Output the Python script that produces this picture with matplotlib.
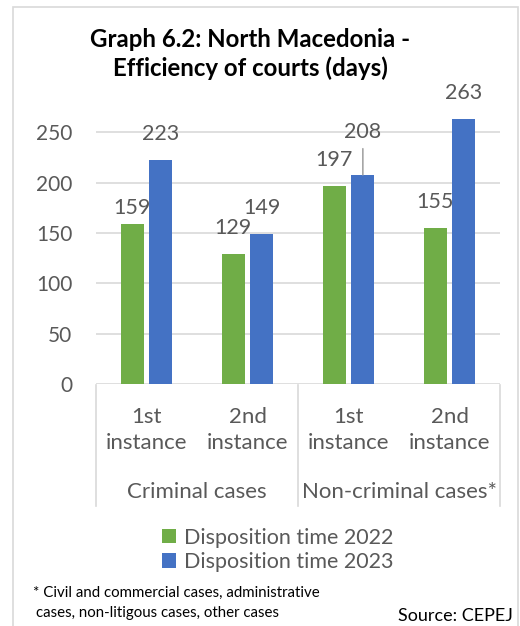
import matplotlib
matplotlib.use("Agg")
import matplotlib.pyplot as plt
import matplotlib.transforms as mtrans
from matplotlib.lines import Line2D
from matplotlib.patches import Rectangle

plt.rcParams['font.family'] = ['Lato', 'DejaVu Sans']

# ---- data ----
instances = ["1st\ninstance", "2nd\ninstance", "1st\ninstance", "2nd\ninstance"]
groups = ["Criminal cases", "Non-criminal cases*"]
dt_2022 = [159, 129, 197, 155]
dt_2023 = [223, 149, 208, 263]
series_names = ["Disposition time 2022", "Disposition time 2023"]
yticks = [0, 50, 100, 150, 200, 250]

GREEN = "#70AD47"
BLUE = "#4472C4"
GRID = "#D9D9D9"
TXT = "#595959"

W, H = 520, 626
fig = plt.figure(figsize=(W / 100, H / 100), dpi=100)

def fx(px):
    return px / W

def fy(py):
    return 1 - py / H

# chart frame
fig.patches.append(Rectangle((fx(13), fy(640)), fx(505), (640 - 7) / H,
                             transform=fig.transFigure, fill=False,
                             edgecolor="#D9D9D9", lw=1.2))

ax_left, ax_right = 96, 500
y0_px = 384
px_per_unit = 1.006
ymax = 300
ax_top = y0_px - ymax * px_per_unit
ax = fig.add_axes([fx(ax_left), fy(y0_px), (ax_right - ax_left) / W, (y0_px - ax_top) / H])
ax.set_xlim(-0.5, 3.5)
ax.set_ylim(0, ymax)

x = list(range(len(instances)))
bw = 0.225
off = 0.142
ax.bar([i - off for i in x], dt_2022, width=bw, color=GREEN, label=series_names[0], zorder=3)
ax.bar([i + off for i in x], dt_2023, width=bw, color=BLUE, label=series_names[1], zorder=3)

for s in ax.spines.values():
    s.set_visible(False)
ax.set_yticks(yticks)
ax.set_yticklabels([str(v) for v in yticks], fontsize=15, color=TXT)
ax.tick_params(axis='y', length=0, pad=17)
ax.set_xticks([])
for v in yticks:
    ax.axhline(v, color=GRID, lw=1.2, zorder=1)

# data labels (offset in pixels above bar top)
def lab(xc, val, dy_px, leader=False):
    dy_pt = dy_px * 72 / 100
    ax.annotate(str(val), (xc, val), xytext=(0, dy_pt), textcoords="offset points",
                ha="center", va="center", fontsize=15.5, color=TXT, zorder=5)
    if leader:
        ax.annotate("", (xc, val), xytext=(0, (dy_px - 17) * 72 / 100),
                    textcoords="offset points",
                    arrowprops=dict(arrowstyle="-", color="#A6A6A6", lw=1.2,
                                    shrinkA=0, shrinkB=0))

g_off = [16, 26, 26, 26]
b_off = [26, 26, 43, 26]
for i in x:
    lab(i - off, dt_2022[i], g_off[i])
    lab(i + off, dt_2023[i], b_off[i], leader=(i == 2))

# category axis
bt = mtrans.blended_transform_factory(ax.transData, fig.transFigure)
for xv in [-0.5, 1.5, 3.5]:
    fig.add_artist(Line2D([xv, xv], [fy(385), fy(506)], transform=bt, color=GRID, lw=1.2))
for i, t in enumerate(instances):
    fig.text(i, fy(430), t, transform=bt, ha="center", va="center", fontsize=16,
             color=TXT, linespacing=1.36)
for gi, g in enumerate(groups):
    fig.text(0.5 + 2 * gi, fy(492), g, transform=bt, ha="center", va="center",
             fontsize=16, color=TXT)

# title
fig.text(fx(250), fy(54), "Graph 6.2: North Macedonia -\nEfficiency of courts (days)",
         ha="center", va="center", fontsize=17.3, fontweight="bold", color="black",
         linespacing=1.3)

# legend
handles, labels = ax.get_legend_handles_labels()
leg = fig.legend(handles, labels, loc="center left", bbox_to_anchor=(fx(162), fy(550)),
                 frameon=False, fontsize=15.5, handlelength=0.65, handleheight=0.65,
                 handletextpad=0.35, labelspacing=0.2, borderpad=0, borderaxespad=0,
                 labelcolor=TXT)

# footnote & source
fig.text(fx(33), fy(593), "* Civil and commercial cases, administrative",
         ha="left", va="center", fontsize=10.8, color="black")
fig.text(fx(36), fy(613), "cases, non-litigous cases, other cases",
         ha="left", va="center", fontsize=10.8, color="black")
fig.text(fx(398), fy(616), "Source: CEPEJ", ha="left", va="center", fontsize=13,
         color="black")

fig.savefig("out.png", dpi=100, facecolor="white")
